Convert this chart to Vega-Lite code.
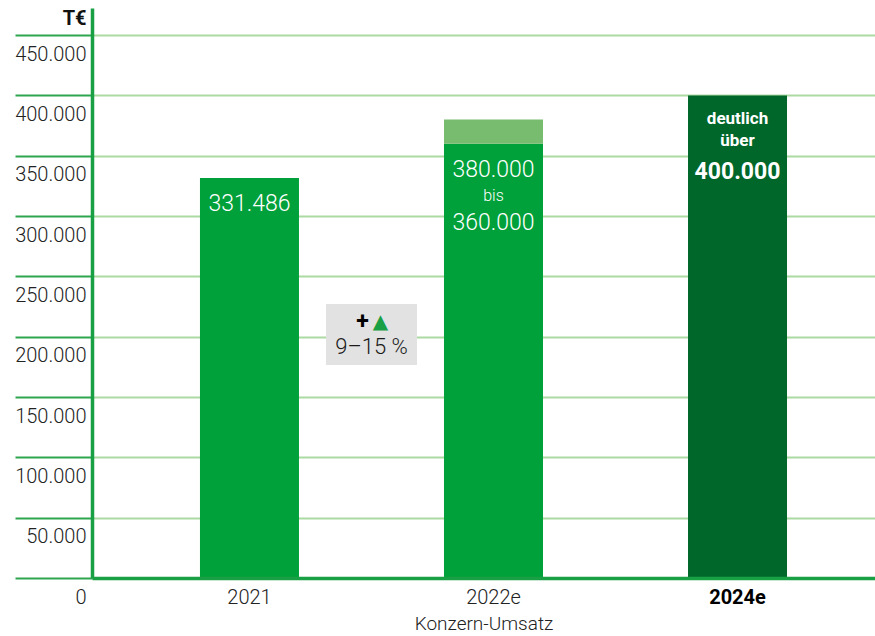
{
  "$schema": "https://vega.github.io/schema/vega-lite/v6.json",
  "width": 783,
  "height": 570,
  "autosize": {"type": "none"},
  "padding": {"left": 92, "top": 8, "right": 0, "bottom": 58},
  "background": "white",
  "config": {
    "view": {"stroke": null},
    "font": "Roboto, Liberation Sans, sans-serif",
    "locale": {"number": {"decimal": ",", "thousands": ".", "grouping": [3], "currency": ["", " €"]}}
  },
  "datasets": {
    "bars": [
      {"cat": "2021", "lo": 0, "hi": 331486, "part": "Ist"},
      {"cat": "2022e", "lo": 0, "hi": 360000, "part": "Ist"},
      {"cat": "2022e", "lo": 360000, "hi": 380000, "part": "Spanne"},
      {"cat": "2024e", "lo": 0, "hi": 400000, "part": "Ziel"}
    ],
    "texts": [
      {"cat": "2021", "y": 310200, "label": "331.486", "kind": "wert"},
      {"cat": "2022e", "y": 337800, "label": "380.000", "kind": "wert"},
      {"cat": "2022e", "y": 317000, "label": "bis", "kind": "bis"},
      {"cat": "2022e", "y": 293900, "label": "360.000", "kind": "wert"},
      {"cat": "2024e", "y": 380500, "label": "deutlich", "kind": "ziel"},
      {"cat": "2024e", "y": 362200, "label": "über", "kind": "ziel"},
      {"cat": "2024e", "y": 336500, "label": "400.000", "kind": "zielwert"}
    ],
    "note": [
      {"cat": " ", "top": 227100, "bottom": 176600, "sym": 212200, "pcty": 191500, "pct": "9–15 %"}
    ]
  },
  "layer": [
    {
      "data": {"name": "bars"},
      "mark": {"type": "bar"},
      "encoding": {
        "x": {
          "field": "cat", "type": "nominal", "title": "Konzern-Umsatz",
          "scale": {"domain": ["2021", " ", "2022e", "  ", "2024e"], "paddingInner": 0.1885, "paddingOuter": 0.803, "align": 0.551},
          "axis": {
            "title": "Konzern-Umsatz", "titleFontSize": 19, "titleFontWeight": 300, "titleColor": "#222222", "titlePadding": 7,
            "labelFontSize": 20, "labelFontWeight": {"condition": {"test": "datum.value === '2024e'", "value": "bold"}, "value": 300},
            "labelColor": {"condition": {"test": "datum.value === '2024e'", "value": "#000000"}, "value": "#222222"},
            "labelAngle": 0, "labelPadding": 9, "ticks": false,
            "domainColor": "#1aa044", "domainWidth": 3.5, "zindex": 1
          }
        },
        "y": {
          "field": "lo", "type": "quantitative", "title": "T€",
          "scale": {"domain": [0, 472500], "nice": false, "zero": true},
          "axis": {
            "values": [0, 50000, 100000, 150000, 200000, 250000, 300000, 350000, 400000, 450000],
            "format": ",d",
            "title": "T€", "titleAngle": 0, "titleAlign": "right", "titleBaseline": "middle",
            "titleX": -6, "titleY": 10, "titleFontSize": 20, "titleFontWeight": "bold", "titleColor": "#111111",
            "labelFontSize": 20, "labelFontWeight": 300, "labelColor": "#222222",
            "labelAlign": "right", "labelBaseline": "top", "labelOffset": 9, "labelPadding": -71,
            "labelFlush": false, "labelOverlap": false,
            "tickSize": 77, "tickColor": "#2ea54f", "tickWidth": 2,
            "grid": true, "gridColor": "#acdaa3", "gridWidth": 2,
            "domainColor": "#1aa044", "domainWidth": 3.5, "zindex": 0
          }
        },
        "y2": {"field": "hi"},
        "color": {
          "field": "part", "type": "nominal",
          "scale": {"domain": ["Ist", "Spanne", "Ziel"], "range": ["#00a13a", "#78bc6f", "#00672a"]},
          "legend": null
        }
      }
    },
    {
      "data": {"name": "note"},
      "mark": {"type": "bar", "width": 91, "color": "#e2e2e2"},
      "encoding": {
        "x": {"field": "cat", "type": "nominal", "title": "Konzern-Umsatz"},
        "y": {"field": "top", "type": "quantitative", "title": "T€"},
        "y2": {"field": "bottom"}
      }
    },
    {
      "data": {"name": "note"},
      "mark": {"type": "text", "text": "+", "fontSize": 23, "fontWeight": "bold", "color": "#000000", "dx": -9, "baseline": "middle"},
      "encoding": {
        "x": {"field": "cat", "type": "nominal", "title": "Konzern-Umsatz"},
        "y": {"field": "sym", "type": "quantitative", "title": "T€"}
      }
    },
    {
      "data": {"name": "note"},
      "mark": {"type": "text", "text": "▲", "font": "DejaVu Sans", "fontSize": 20, "color": "#1aa044", "dx": 9, "baseline": "middle"},
      "encoding": {
        "x": {"field": "cat", "type": "nominal", "title": "Konzern-Umsatz"},
        "y": {"field": "sym", "type": "quantitative", "title": "T€"}
      }
    },
    {
      "data": {"name": "note"},
      "mark": {"type": "text", "fontSize": 22, "fontWeight": 300, "color": "#1a1a1a", "baseline": "middle"},
      "encoding": {
        "x": {"field": "cat", "type": "nominal", "title": "Konzern-Umsatz"},
        "y": {"field": "pcty", "type": "quantitative", "title": "T€"},
        "text": {"field": "pct"}
      }
    },
    {
      "data": {"name": "texts"},
      "transform": [{"filter": "datum.kind === 'wert'"}],
      "mark": {"type": "text", "fontSize": 23, "fontWeight": 300, "color": "white", "baseline": "middle"},
      "encoding": {
        "x": {"field": "cat", "type": "nominal", "title": "Konzern-Umsatz"},
        "y": {"field": "y", "type": "quantitative", "title": "T€"},
        "text": {"field": "label"}
      }
    },
    {
      "data": {"name": "texts"},
      "transform": [{"filter": "datum.kind === 'bis'"}],
      "mark": {"type": "text", "fontSize": 16, "fontWeight": 300, "color": "white", "baseline": "middle"},
      "encoding": {
        "x": {"field": "cat", "type": "nominal", "title": "Konzern-Umsatz"},
        "y": {"field": "y", "type": "quantitative", "title": "T€"},
        "text": {"field": "label"}
      }
    },
    {
      "data": {"name": "texts"},
      "transform": [{"filter": "datum.kind === 'ziel'"}],
      "mark": {"type": "text", "fontSize": 17, "fontWeight": "bold", "color": "white", "baseline": "middle"},
      "encoding": {
        "x": {"field": "cat", "type": "nominal", "title": "Konzern-Umsatz"},
        "y": {"field": "y", "type": "quantitative", "title": "T€"},
        "text": {"field": "label"}
      }
    },
    {
      "data": {"name": "texts"},
      "transform": [{"filter": "datum.kind === 'zielwert'"}],
      "mark": {"type": "text", "fontSize": 23, "fontWeight": "bold", "color": "white", "baseline": "middle"},
      "encoding": {
        "x": {"field": "cat", "type": "nominal", "title": "Konzern-Umsatz"},
        "y": {"field": "y", "type": "quantitative", "title": "T€"},
        "text": {"field": "label"}
      }
    }
  ]
}
